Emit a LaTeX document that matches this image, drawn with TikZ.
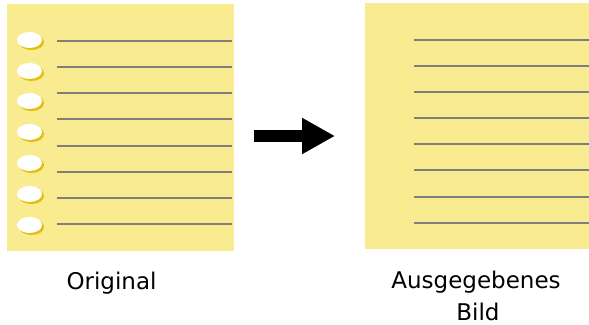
\documentclass[tikz,border=0pt]{standalone}
\usepackage{fontspec}
\setmainfont{DejaVu Sans}
\usetikzlibrary{arrows.meta}
\definecolor{pagecol}{HTML}{F8EB90}
\definecolor{holeshadow}{HTML}{E3BE0C}
\definecolor{rulecol}{HTML}{7F7F7F}
\tikzset{
  page/.style={fill=pagecol, draw=none, rectangle, inner sep=0pt},
  rule/.style={draw=rulecol, line width=2.2pt},
  hole/.style={fill=white},
  holeshade/.style={fill=holeshadow},
  bigarrow/.style={line width=12pt, line cap=butt, -{Triangle[length=33pt,width=34pt]}},
  caption/.style={font=\fontsize{23}{33}\selectfont, inner sep=0pt, align=center}
}
\begin{document}
\begin{tikzpicture}[x=1pt,y=-1pt]
\useasboundingbox (0,0) rectangle (589,324);
% pages
\node[page, minimum width=227pt, minimum height=247pt, anchor=north west] (orig) at (7,4) {};
\node[page, minimum width=224pt, minimum height=246pt, anchor=north west] (out) at (365,3) {};
% holes
\foreach \y in {40,71,101,132,163,194,225}{
  \fill[holeshade] (31.5,42) ++(0,\y-40) ellipse [x radius=12.5pt, y radius=8pt];
  \fill[hole] (29.5,\y) ellipse [x radius=12.5pt, y radius=8pt];
}
% rules on original
\foreach \y in {41,67,93,119,146,172,198,224}{
  \draw[rule] (57,\y) -- (232,\y);
}
% rules on output
\foreach \y in {40,66,92,118,144,170,197,223}{
  \draw[rule] (414,\y) -- (589,\y);
}
% arrow
\coordinate (as) at (254,136);
\coordinate (ae) at (335,136);
\draw[bigarrow] (as) -- (ae);
% captions
\node[caption, anchor=base] (lorig) at (111.5,289) {Original};
\node[caption, anchor=base] (lout1) at (476,288) {Ausgegebenes};
\node[caption, anchor=base] (lout2) at (478,320.5) {Bild};
\end{tikzpicture}
\end{document}
